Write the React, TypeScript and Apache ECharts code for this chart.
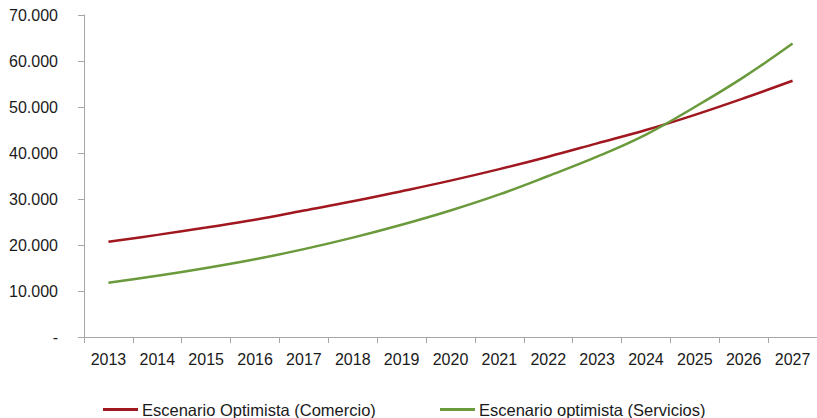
import React, { useEffect, useRef } from "react";
import * as echarts from "echarts";

const years = ["2013", "2014", "2015", "2016", "2017", "2018", "2019", "2020", "2021", "2022", "2023", "2024", "2025", "2026", "2027"];
const comercio = [20700, 22200, 23800, 25500, 27500, 29500, 31700, 34000, 36500, 39200, 42100, 45000, 48300, 51900, 55700];
const servicios = [11800, 13300, 15000, 16900, 19100, 21600, 24400, 27500, 31000, 35000, 39200, 44000, 50000, 56500, 63800];
const seriesNames = ["Escenario Optimista (Comercio)", "Escenario optimista (Servicios)"];

const FONT = "'Liberation Sans', Arial, sans-serif";
const TEXT = "#1a1a1a";
const AXIS = "#a6a6a6";

function fmt(v: number): string {
  if (v === 0) return "-";
  return String(v).replace(/\B(?=(\d{3})+(?!\d))/g, ".");
}

const legendBase = {
  top: 401,
  padding: 0,
  icon: "rect",
  itemWidth: 35,
  itemHeight: 3,
  textStyle: { fontFamily: FONT, fontSize: 16.5, color: TEXT, padding: [0, 0, 0, -1] },
};

export default function App() {
  const ref = useRef<HTMLDivElement>(null);
  useEffect(() => {
    if (!ref.current) return;
    const chart = echarts.init(ref.current, null, { renderer: "svg" });
    chart.setOption({
      animation: false,
      backgroundColor: "#ffffff",
      grid: { left: 84, top: 15, width: 736, height: 322, containLabel: false },
      legend: [
        { ...legendBase, left: 103, data: [seriesNames[0]] },
        { ...legendBase, left: 440, data: [seriesNames[1]] },
      ],
      xAxis: {
        type: "category",
        data: years,
        boundaryGap: true,
        axisLine: { lineStyle: { color: AXIS, width: 1 } },
        axisTick: { show: true, length: 6, lineStyle: { color: AXIS } },
        axisLabel: { fontFamily: FONT, fontSize: 16, color: TEXT, margin: 14 },
        splitLine: { show: false },
      },
      yAxis: {
        type: "value",
        min: 0,
        max: 70000,
        interval: 10000,
        axisLine: { show: true, lineStyle: { color: AXIS, width: 1 } },
        axisTick: { show: true, length: 6, lineStyle: { color: AXIS } },
        axisLabel: { fontFamily: FONT, fontSize: 16, color: TEXT, margin: 26, formatter: fmt },
        splitLine: { show: false },
      },
      series: [
        {
          name: seriesNames[0],
          type: "line",
          data: comercio,
          smooth: 0.4,
          symbol: "none",
          lineStyle: { color: "#A0171F", width: 2.5 },
          itemStyle: { color: "#A0171F" },
        },
        {
          name: seriesNames[1],
          type: "line",
          data: servicios,
          smooth: 0.4,
          symbol: "none",
          lineStyle: { color: "#6A9A3B", width: 2.5 },
          itemStyle: { color: "#6A9A3B" },
        },
      ],
    });
    return () => chart.dispose();
  }, []);
  return <div ref={ref} style={{ position: "absolute", left: 0, top: 0, width: 817, height: 418 }} />;
}
